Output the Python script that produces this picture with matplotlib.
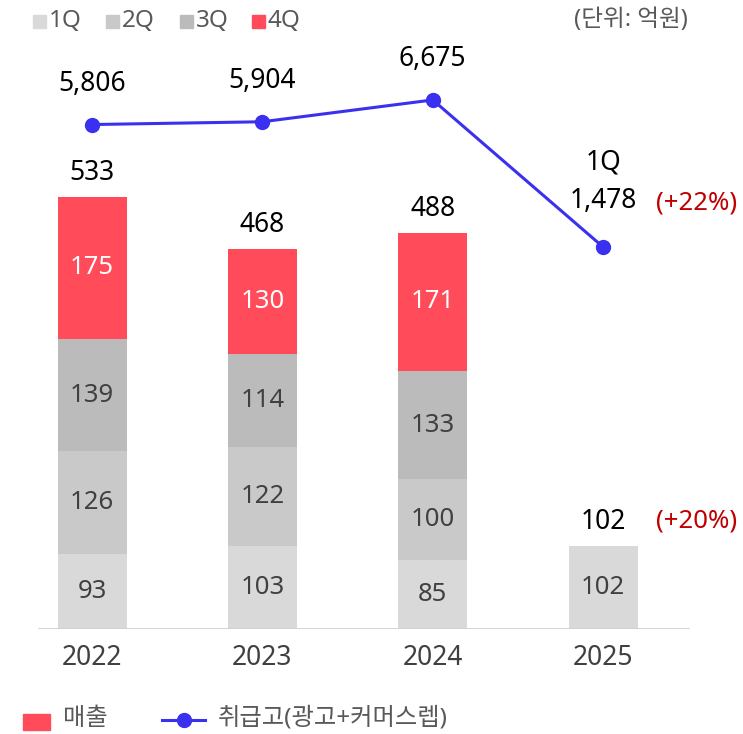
import numpy as np
import matplotlib
matplotlib.use('Agg')
import matplotlib.pyplot as plt
from matplotlib.patches import Rectangle
from matplotlib.lines import Line2D

plt.rcParams['font.family'] = ['Noto Sans', 'Noto Sans CJK KR', 'DejaVu Sans']

years = ['2022', '2023', '2024', '2025']
q1 = [93, 103, 85, 102]
q2 = [126, 122, 100, 0]
q3 = [139, 114, 133, 0]
q4 = [175, 130, 171, 0]
totals = [533, 468, 488, 102]
gmv = [5806, 5904, 6675, 1478]
quarters = ['1Q', '2Q', '3Q', '4Q']
colors = ['#d9d9d9', '#c9c9c9', '#bbbbbb', '#ff4b5a']
blue = '#3a30f0'

W, H = 743, 734
fig = plt.figure(figsize=(W / 100, H / 100), dpi=100)

def px(x, y):
    return x / W, 1 - y / H

# axes: x 38..690 px, y 0..629 px
ax = fig.add_axes([38 / W, 1 - 629 / H, (690 - 38) / W, 629 / H])
x = np.arange(len(years))
ax.set_xlim(-0.317, 3.51)
ax.set_ylim(0, 776)

segs = [q1, q2, q3, q4]
bottom = np.zeros(len(years))
for i, s in enumerate(segs):
    s = np.array(s, dtype=float)
    ax.bar(x, s, bottom=bottom, width=0.405, color=colors[i], zorder=2)
    for xi, b, v in zip(x, bottom, s):
        if v > 0:
            ax.text(xi, b + v / 2, f'{int(v)}', ha='center', va='center',
                    fontsize=18.5, color='white' if i == 3 else '#404040', zorder=3)
    bottom += s

for xi, t in zip(x, totals):
    ax.text(xi, t + 30, f'{t}', ha='center', va='center', fontsize=19, color='black')

ax.axhline(0, color='#d0d0d0', lw=2, zorder=4)
for sp in ax.spines.values():
    sp.set_visible(False)
ax.set_yticks([])
ax.set_xticks(x)
ax.set_xticklabels(years, fontsize=19, color='#404040')
ax.tick_params(axis='x', length=0, pad=11)

ax2 = ax.twinx()
ax2.set_ylim(-12026, 10208)
ax2.axis('off')
ax2.plot(x, gmv, color=blue, lw=2.2, marker='o', markersize=10, zorder=5)
for xi, v in zip(x[:3], gmv[:3]):
    ax2.text(xi, v + 1450, f'{v:,}', ha='center', va='center', fontsize=19, color='black')
ax2.text(x[3], gmv[3] + 1630, f'{gmv[3]:,}', ha='center', va='center', fontsize=19, color='black')
ax2.text(x[3], gmv[3] + 3000, '1Q', ha='center', va='center', fontsize=19, color='black')

fig.text(*px(697, 203), '(+22%)', ha='center', va='center', fontsize=18.5, color='#c00000')
fig.text(*px(697, 521), '(+20%)', ha='center', va='center', fontsize=18.5, color='#c00000')

# top legend
lx = [33, 106, 180, 252]
for xx, q, c in zip(lx, quarters, colors):
    fig.add_artist(Rectangle(px(xx, 28), 13 / W, 13 / H, color=c, transform=fig.transFigure))
    fig.text(*px(xx + 16, 21), q, ha='left', va='center', fontsize=17.5, color='#595959')

fig.text(*px(688, 20), '(단위: 억원)', ha='right', va='center', fontsize=17, color='#595959')

# bottom legend
fig.add_artist(Rectangle(px(23, 730), 27 / W, 16 / H, color=colors[3], transform=fig.transFigure))
fig.text(*px(63, 719), '매출', ha='left', va='center', fontsize=17.5, color='#595959')
fig.add_artist(Line2D([162 / W, 205 / W], [1 - 720 / H] * 2, color=blue, lw=2.2,
                      transform=fig.transFigure))
fig.add_artist(Line2D([183.5 / W], [1 - 720 / H], color=blue, marker='o', markersize=10,
                      transform=fig.transFigure))
fig.text(*px(218, 719), '취급고(광고+커머스렙)', ha='left', va='center', fontsize=17.5, color='#595959')

fig.savefig('out.png', dpi=100)
